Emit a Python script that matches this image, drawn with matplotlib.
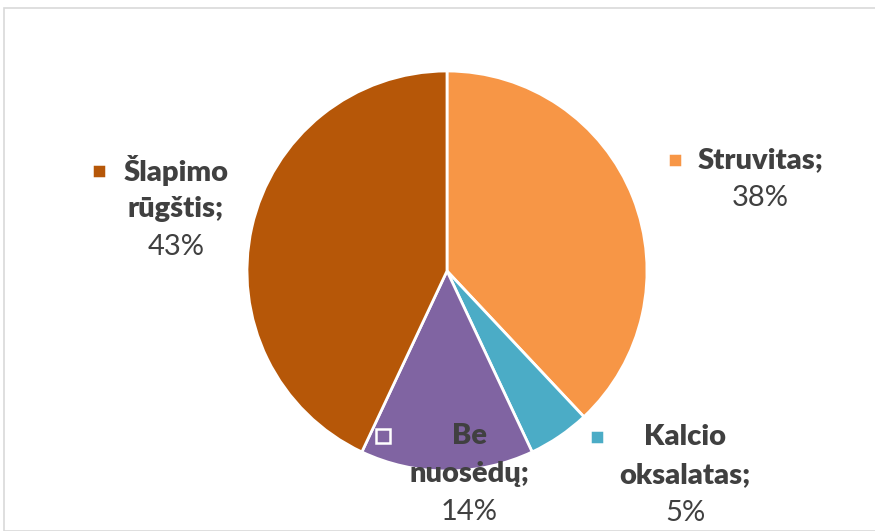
import matplotlib.pyplot as plt
from matplotlib.patches import Rectangle

plt.rcParams['font.family'] = ['Lato', 'DejaVu Sans']

names = ['Struvitas', 'Kalcio\noksalatas', 'Be nuosėdų', 'Šlapimo\nrūgštis']
shares = [38, 5, 14, 43]
colors = ['#F79646', '#4BACC6', '#8064A2', '#B65708']

W, H = 875, 531
fig = plt.figure(figsize=(W / 100, H / 100), dpi=100)
ax = fig.add_axes([0, 0, 1, 1])

# pie centre / radius in pixel units
cx, cy, r = 447, H - 271, 200
ax.pie(shares, colors=colors, startangle=90, counterclock=False,
       center=(cx, cy), radius=r, frame=True,
       wedgeprops=dict(edgecolor='white', linewidth=2))
ax.set_xlim(0, W)
ax.set_ylim(0, H)
ax.set_aspect('auto')
ax.axis('off')

fig.patches.append(Rectangle((3.5 / W, 0), 2, 1 - 7.5 / H, transform=fig.transFigure,
                             fill=False, edgecolor='#D9D9D9', linewidth=1.2))

txt = '#404040'
fs = 21
# label lines, centre x, key x, key y (first line)
layout = [
    (['Struvitas;'], 760, 675, 160),
    (['Kalcio', 'oksalatas;'], 685, 597, 437),
    (['Be', 'nuosėdų;'], 469, 383, 436),
    (['Šlapimo', 'rūgštis;'], 176, 99, 171),
]
step = 38
for (lines, tx, kx, ky), share, col in zip(layout, shares, colors):
    y = ky
    for ln in lines:
        ax.text(tx, H - y, ln, ha='center', va='center', fontsize=fs,
                fontweight='heavy', color=txt)
        y += step
    ax.text(tx, H - y, f'{share}%', ha='center', va='center', fontsize=fs,
            color=txt)
    ax.plot([kx], [H - ky], marker='s', markersize=10, markerfacecolor=col,
            markeredgecolor='white', markeredgewidth=1.8, linestyle='none')

fig.savefig('out.png', dpi=100)
